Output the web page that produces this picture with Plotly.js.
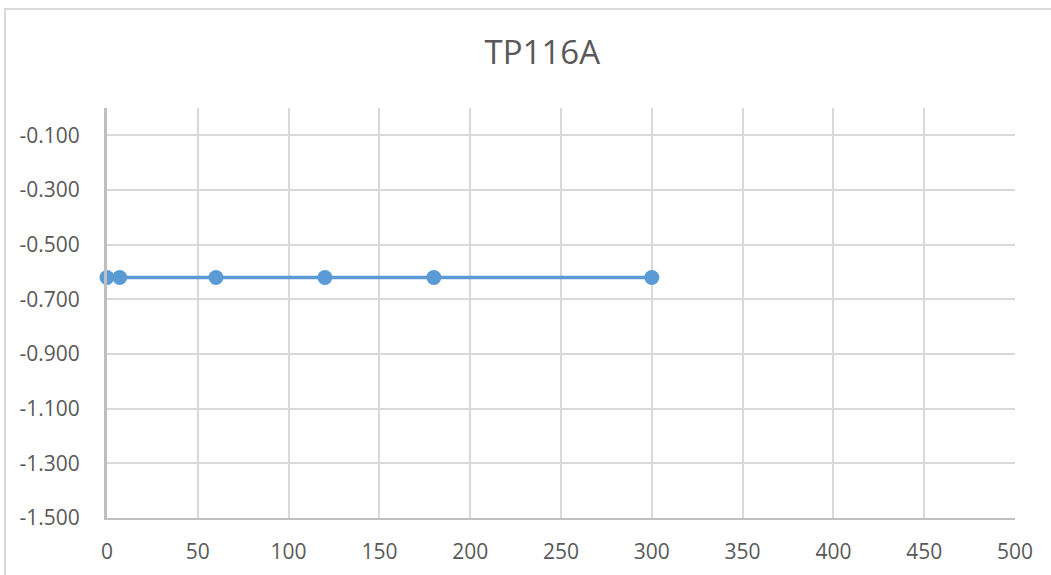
<!DOCTYPE html>
<html>
<head>
<meta charset="utf-8">
<script src="https://cdn.plot.ly/plotly-3.0.1.min.js"></script>
<style>
html,body{margin:0;padding:0;background:#fff;overflow:hidden;}
#wrap{position:absolute;left:0;top:0;width:1051px;height:575px;overflow:hidden;}
#frame{position:absolute;left:4px;top:8px;width:1100px;height:600px;border:2px solid #d9d9d9;box-sizing:border-box;pointer-events:none;}
#chart{position:absolute;left:0;top:0;width:1051px;height:575px;}
</style>
</head>
<body>
<div id="wrap">
<div id="chart"></div>
<div id="frame"></div>
</div>
<script>
const chartTitle = "TP116A";
const xValues = [0, 7, 60, 120, 180, 300];
const yValues = [-0.62, -0.62, -0.62, -0.62, -0.62, -0.62];
const xTickVals = [0, 50, 100, 150, 200, 250, 300, 350, 400, 450, 500];
const yTickVals = [-1.5, -1.3, -1.1, -0.9, -0.7, -0.5, -0.3, -0.1];
const yTickText = ["-1.500", "-1.300", "-1.100", "-0.900", "-0.700", "-0.500", "-0.300", "-0.100"];

const trace = {
  x: xValues,
  y: yValues,
  type: "scatter",
  mode: "lines+markers",
  line: {color: "#5b9bd5", width: 3.5},
  marker: {color: "#5b9bd5", size: 15},
  cliponaxis: false,
  hoverinfo: "skip"
};

const layout = {
  width: 1051,
  height: 575,
  margin: {l: 107, r: 36, t: 108, b: 57},
  paper_bgcolor: "rgba(0,0,0,0)",
  plot_bgcolor: "#ffffff",
  font: {family: "Open Sans, Liberation Sans, sans-serif", color: "#595959", size: 21},
  title: {text: chartTitle, x: 0.516, xanchor: "center", y: 0.908, yanchor: "middle",
          font: {size: 33, color: "#595959", family: "Open Sans, Liberation Sans, sans-serif"}},
  showlegend: false,
  xaxis: {
    range: [0, 500], tickmode: "array", tickvals: xTickVals,
    showgrid: true, gridcolor: "#d9d9d9", gridwidth: 2,
    zeroline: false, showline: true, linecolor: "#bfbfbf", linewidth: 2,
    ticks: "", ticklen: 0, ticklabelstandoff: 14,
    tickfont: {size: 21, color: "#595959"}, fixedrange: true
  },
  yaxis: {
    range: [-1.5, 0], tickmode: "array", tickvals: yTickVals, ticktext: yTickText,
    showgrid: true, gridcolor: "#d9d9d9", gridwidth: 2,
    zeroline: false, showline: true, linecolor: "#bfbfbf", linewidth: 3,
    ticks: "", ticklen: 0, ticklabelstandoff: 20,
    tickfont: {size: 21, color: "#595959"}, fixedrange: true
  }
};

Plotly.newPlot("chart", [trace], layout, {displayModeBar: false, staticPlot: true});
</script>
</body>
</html>
